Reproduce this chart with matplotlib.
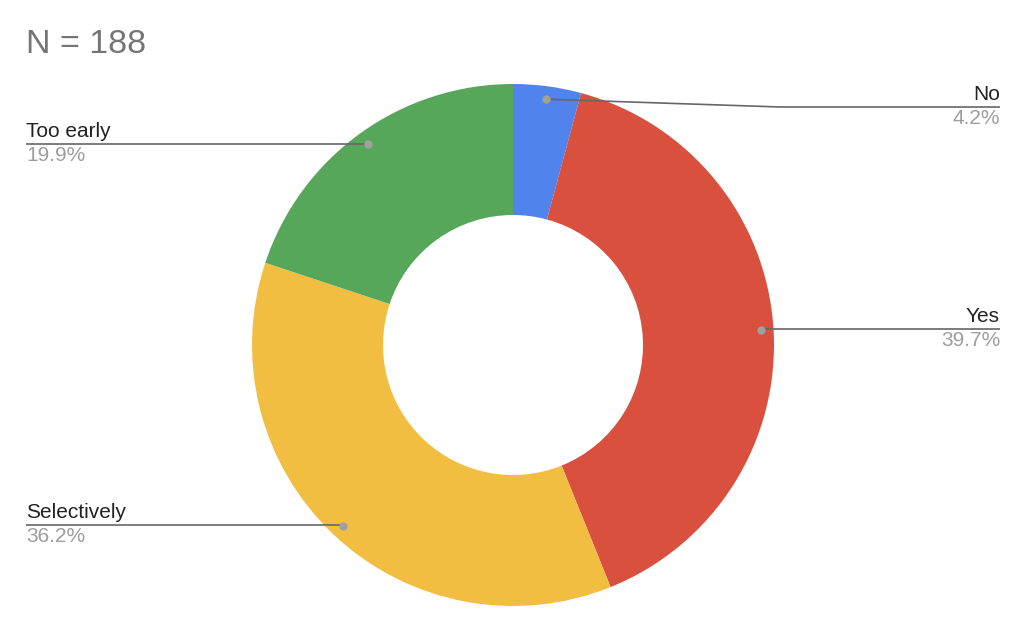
import numpy as np
import matplotlib.pyplot as plt

plt.rcParams['font.family'] = ['Liberation Sans', 'DejaVu Sans']

# data
labels = ['No', 'Yes', 'Selectively', 'Too early']
values = [4.2, 39.7, 36.2, 19.9]
colors = ['#5083ec', '#d9503f', '#f2be42', '#57a75b']
title = 'N = 188'

W, H = 1024, 630
fig = plt.figure(figsize=(W / 100, H / 100), dpi=100)
ax = fig.add_axes([0, 0, 1, 1])

cx, cy = 513, H - 345
r_out, r_in = 261, 130

ax.pie(values, colors=colors, startangle=90, counterclock=False,
       center=(cx, cy), radius=r_out, frame=True,
       wedgeprops=dict(width=r_out - r_in, linewidth=0))
ax.set_xlim(0, W)
ax.set_ylim(0, H)
ax.axis('off')

# label layout: (side, line y in px from top, elbow x or None)
layout = {
    'No': ('right', 107, 780),
    'Yes': ('right', 329, None),
    'Selectively': ('left', 525, None),
    'Too early': ('left', 144, None),
}
x_left, x_right = 26, 1000
r_dot = 248

total = sum(values)
start = 90.0
for lab, v in zip(labels, values):
    span = v / total * 360
    mid = np.deg2rad(start - span / 2)
    start -= span
    dx, dy = cx + r_dot * np.cos(mid), cy + r_dot * np.sin(mid)
    side, ly, elbow = layout[lab]
    ly = H - ly
    xe = x_right if side == 'right' else x_left
    if elbow is not None:
        xs, ys = [dx, elbow, xe], [dy, ly, ly]
    else:
        xs, ys = [dx, xe], [ly, ly]
    ax.plot(xs, ys, color='#666666', linewidth=1.2, solid_capstyle='butt', zorder=3)
    ax.plot(dx, dy, 'o', color='#a0a0a0', markersize=5, zorder=4)
    ha = 'right' if side == 'right' else 'left'
    ax.text(xe, ly + 3, lab, ha=ha, va='bottom', fontsize=15, color='#222222')
    ax.text(xe, ly - 2, f'{v:.1f}%', ha=ha, va='top', fontsize=15, color='#9e9e9e')

ax.text(26, H - 53, title, ha='left', va='baseline', fontsize=24.5, color='#757575')

fig.savefig('out.png', dpi=100)
